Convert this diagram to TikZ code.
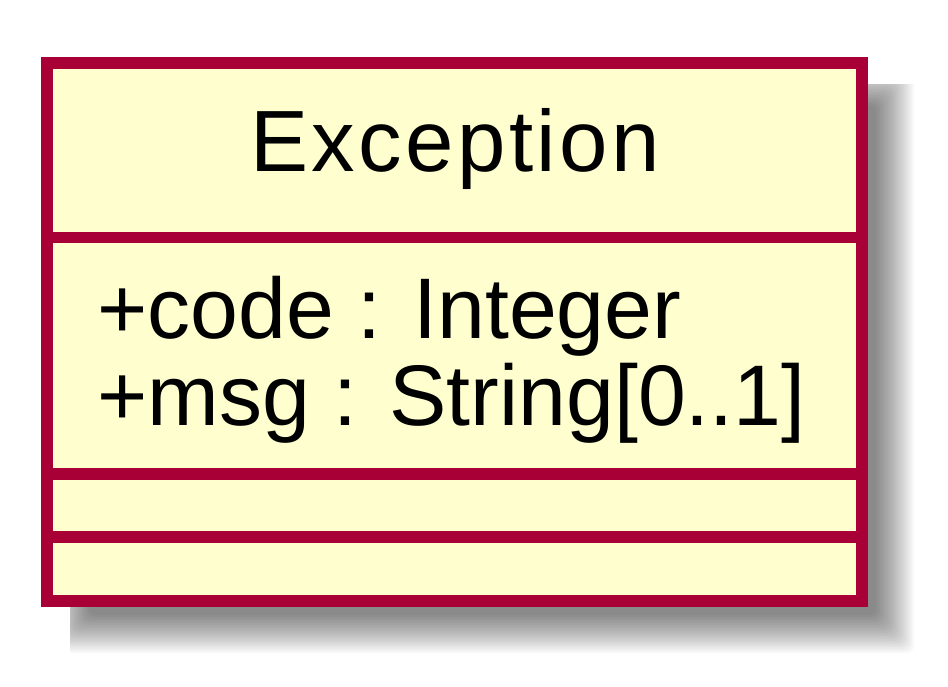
\documentclass[tikz,border=0pt]{standalone}
\usepackage{fontspec}
\setmainfont{Liberation Sans}
\definecolor{umlborder}{HTML}{A80036}
\definecolor{umlfill}{HTML}{FEFECE}
\begin{document}
\begin{tikzpicture}[x=1pt,y=-1pt,
  classbox/.style={draw=umlborder,fill=umlfill,line width=12pt},
  sepline/.style={draw=umlborder,line width=11.5pt},
  umltext/.style={inner sep=0pt,font=\fontsize{86}{86}\selectfont,text=black}]
\useasboundingbox[fill=white] (0,0) rectangle (948,687);
% blurred shadow
\begin{scope}
  \clip (70,85) rectangle (948,687);
  \foreach \k in {0,...,19}{
    \pgfmathsetmacro{\d}{-20+2*\k}
    \fill[black,fill opacity=0.027,rounded corners=8pt]
      ({69-\d},{85-\d}) rectangle ({896+\d},{635+\d});
  }
\end{scope}
% class box
\draw[classbox] (47.3,63.3) rectangle (861.7,600.7);
\draw[sepline] (47.3,237.5) -- (861.7,237.5);
\draw[sepline] (47.3,474) -- (861.7,474);
\draw[sepline] (47.3,537) -- (861.7,537);
% texts
\node[umltext,anchor=base] (title) at (455,171.7) {\fontsize{87}{87}\selectfont\addfontfeature{LetterSpace=4}Exception};
\node[umltext,anchor=base west] (attr1) at (97,338) {+code : Integer};
\node[umltext,anchor=base west] (attr2) at (97,425) {+msg : String[0..1]};
\end{tikzpicture}
\end{document}
